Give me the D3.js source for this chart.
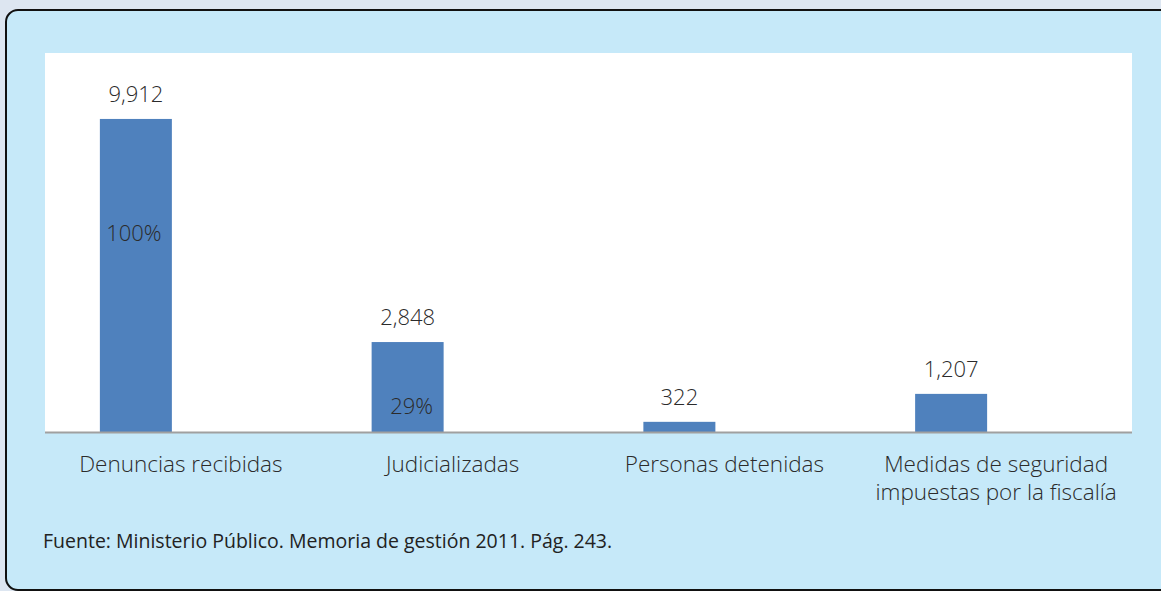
<!DOCTYPE html>
<meta charset="utf-8">
<title>Denuncias</title>
<style>
body { margin: 0; background: #dde6f1; overflow: hidden; }
svg { display: block; font-family: 'Open Sans', sans-serif; }
.lbl { font-size: 22px; font-weight: 300; fill: #2b2b2b; }
.cat { font-size: 22.5px; font-weight: 300; fill: #2b2b2b; text-anchor: middle; }
.src { font-size: 19.5px; fill: #222; }
</style>
<svg width="1161" height="591"></svg>
<script src="https://d3js.org/d3.v7.min.js"></script>
<script>

var categories = ["Denuncias recibidas", "Judicializadas", "Personas detenidas", "Medidas de seguridad impuestas por la fiscalía"];
var values = [9912, 2848, 322, 1207];
var percents = ["100%", "29%", null, null];
var yTicks = [0, 12000];
var source = "Fuente: Ministerio Público. Memoria de gestión 2011. Pág. 243.";

var svg = d3.select("svg");

// outer box
svg.append("rect")
  .attr("x", 6).attr("y", 10)
  .attr("width", 1300).attr("height", 580)
  .attr("rx", 12)
  .attr("fill", "#c6e9f9")
  .attr("stroke", "#111")
  .attr("stroke-width", 2);

var pLeft = 45, pRight = 1132, pTop = 53, pBottom = 432;

svg.append("rect")
  .attr("x", pLeft).attr("y", pTop)
  .attr("width", pRight - pLeft).attr("height", pBottom - pTop)
  .attr("fill", "#fff");

var x0 = d3.scaleBand().domain(categories).range([pLeft, pRight]);
var bw = x0.bandwidth();
// two series slots per category, only the first one is filled
var x1 = d3.scaleBand().domain(["n", "p"])
  .range([bw / 2 - 90, bw / 2 + 90])
  .paddingInner(0.2).paddingOuter(0.1);

var y = d3.scaleLinear().domain(d3.extent(yTicks)).range([pBottom, pTop]);

var data = categories.map(function(c, i) { return {cat: c, v: values[i], p: percents[i]}; });

var g = svg.selectAll(".bar").data(data).enter().append("g")
  .attr("class", "bar")
  .attr("transform", function(d) { return "translate(" + x0(d.cat) + ",0)"; });

g.append("rect")
  .attr("x", x1("n"))
  .attr("width", x1.bandwidth())
  .attr("y", function(d) { return y(d.v); })
  .attr("height", function(d) { return y(0) - y(d.v); })
  .attr("fill", "#4f81bd");

g.append("text")
  .attr("class", "lbl")
  .attr("text-anchor", "middle")
  .attr("x", x1("n") + x1.bandwidth() / 2)
  .attr("y", function(d) { return y(d.v) - 17; })
  .text(function(d) { return d3.format(",")(d.v); });

// percentage labels sit inside the bars (anchored in data units)
var pctAt = [6050, 560];
g.filter(function(d) { return d.p; }).append("text")
  .attr("class", "lbl")
  .attr("text-anchor", "middle")
  .attr("x", function(d, i) { return x1("n") + x1.bandwidth() / 2 + (i ? 4 : -2); })
  .attr("y", function(d, i) { return y(pctAt[i]); })
  .text(function(d) { return d.p; });

// baseline
svg.append("line")
  .attr("x1", pLeft).attr("x2", pRight)
  .attr("y1", pBottom + 0.5).attr("y2", pBottom + 0.5)
  .attr("stroke", "#a0a0a0").attr("stroke-width", 2);

// category labels (wrapped)
var wrap = {"Medidas de seguridad impuestas por la fiscalía": ["Medidas de seguridad", "impuestas por la fiscalía"]};
categories.forEach(function(c) {
  var lines = wrap[c] || [c];
  var t = svg.append("text").attr("class", "cat")
    .attr("x", x0(c) + bw / 2).attr("y", 472);
  lines.forEach(function(l, i) {
    t.append("tspan").attr("x", x0(c) + bw / 2).attr("dy", i ? 28 : 0).text(l);
  });
});

svg.append("text")
  .attr("class", "src")
  .attr("x", 43).attr("y", 548)
  .text(source);

</script>
